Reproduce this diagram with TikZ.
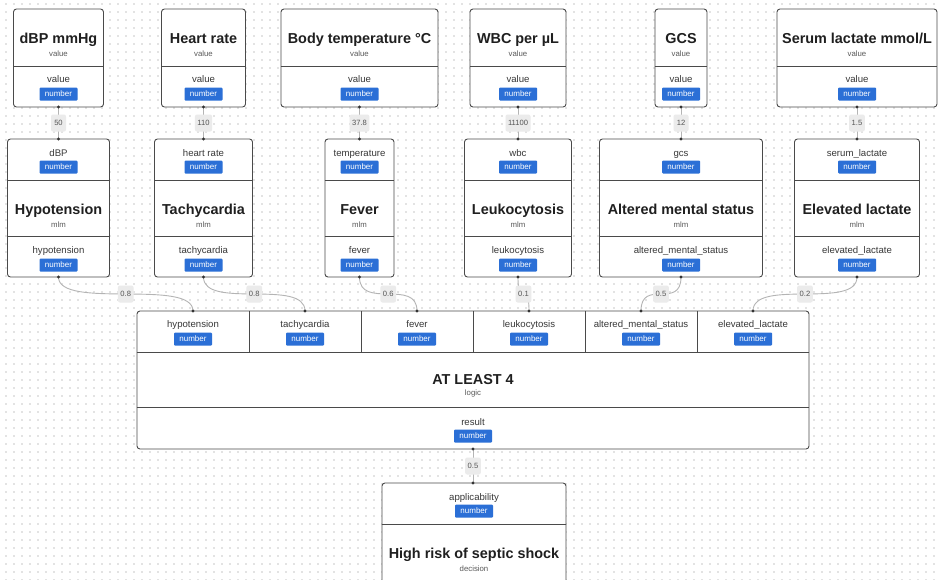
\documentclass[tikz,border=0pt]{standalone}
\usepackage{fontspec}
\setmainfont{Liberation Sans}
\definecolor{bord}{HTML}{4A4A4A}
\definecolor{badgecol}{HTML}{2B6FD6}
\definecolor{conncol}{HTML}{B4B4B4}
\definecolor{elfill}{HTML}{EBEBEB}
\definecolor{eltext}{HTML}{555555}
\definecolor{gridc}{HTML}{E3E3E3}
\tikzset{
 box/.style={draw=bord, line width=0.9pt, fill=white, rounded corners=3pt, inner sep=0pt},
 divider/.style={draw=bord, line width=0.8pt},
 ttl/.style={font=\fontsize{14.4}{16}\selectfont\bfseries, text=black!88, inner sep=0pt},
 sub/.style={font=\fontsize{7.8}{9}\selectfont, text=black!65, inner sep=0pt},
 plabel/.style={font=\fontsize{9.6}{11}\selectfont, text=black!78, inner sep=0pt},
 badgebox/.style={fill=badgecol, text=white, font=\fontsize{8}{9}\selectfont, minimum width=38pt, minimum height=13pt, inner sep=0pt, rounded corners=1pt},
 conn/.style={draw=conncol, line width=0.9pt},
 elabel/.style={fill=elfill, text=eltext, font=\fontsize{7.6}{9}\selectfont, rounded corners=2pt, inner xsep=2.5pt, inner ysep=0pt, minimum height=17pt, minimum width=15pt},
 portdot/.style={fill=black!80},
}
\newcommand{\valbox}[4]{%
 \node[box, minimum width=#3pt, minimum height=98pt] (#1) at (#2,58) {};
 \draw[divider] ([yshift=-8pt]#1.west) -- ([yshift=-8pt]#1.east);
 \node[ttl, anchor=base] (#1-t) at (#2,43.5) {#4};
 \node[sub, anchor=base] (#1-s) at (#2,56.5) {value};
 \node[plabel, anchor=base] (#1-l) at (#2,82.5) {value};
 \node[badgebox] (#1-b) at (#2,94) {number};
 \coordinate (#1-out) at (#2,107);
}
\newcommand{\mlmbox}[6]{%
 \node[box, minimum width=#3pt, minimum height=138pt] (#1) at (#2,208) {};
 \draw[divider] ([yshift=28pt]#1.west) -- ([yshift=28pt]#1.east);
 \draw[divider] ([yshift=-28pt]#1.west) -- ([yshift=-28pt]#1.east);
 \node[plabel, anchor=base] (#1-il) at (#2,156) {#4};
 \node[badgebox] (#1-ib) at (#2,167) {number};
 \node[ttl, anchor=base] (#1-t) at (#2,214) {#5};
 \node[sub, anchor=base] (#1-s) at (#2,227) {mlm};
 \node[plabel, anchor=base] (#1-ol) at (#2,253) {#6};
 \node[badgebox] (#1-ob) at (#2,265) {number};
 \coordinate (#1-in) at (#2,139);
 \coordinate (#1-out) at (#2,277);
}
\begin{document}
\begin{tikzpicture}[x=1pt,y=-1pt]
\useasboundingbox (0,0) rectangle (938,579);
\clip (0,0) rectangle (938,579);
\fill[white] (0,0) rectangle (938,579);
\foreach \k in {0,...,72}
  \draw[gridc, line width=1.1pt, dash pattern=on 1.1pt off 6.9pt] (5.45,{4+8*\k}) -- (938,{4+8*\k});

% value boxes
\valbox{dbp}{58.5}{90}{dBP mmHg}
\valbox{hr}{203.5}{84}{Heart rate}
\valbox{bt}{359.5}{157}{Body temperature °C}
\valbox{wbc}{518}{96}{WBC per µL}
\valbox{gcs}{681}{52}{GCS}
\valbox{sl}{857}{160}{Serum lactate mmol/L}

% mlm boxes
\mlmbox{hyp}{58.5}{102}{dBP}{Hypotension}{hypotension}
\mlmbox{tac}{203.5}{98}{heart rate}{Tachycardia}{tachycardia}
\mlmbox{fev}{359.5}{69}{temperature}{Fever}{fever}
\mlmbox{leu}{518}{107}{wbc}{Leukocytosis}{leukocytosis}
\mlmbox{ams}{681}{163}{gcs}{Altered mental status}{altered\_mental\_status}
\mlmbox{ela}{857}{125}{serum\_lactate}{Elevated lactate}{elevated\_lactate}

% logic box
\node[box, minimum width=672pt, minimum height=138pt] (logic) at (473,380) {};
\draw[divider] ([yshift=28pt]logic.west) -- ([yshift=28pt]logic.east);
\draw[divider] ([yshift=-27pt]logic.west) -- ([yshift=-27pt]logic.east);
\foreach \x in {249,361,473,585,697}
  \draw[divider] (\x,311) -- (\x,352);
\foreach \i/\lab in {1/hypotension,2/tachycardia,3/fever,4/leukocytosis,5/altered\_mental\_status,6/elevated\_lactate}{
  \pgfmathsetmacro\px{193+112*(\i-1)}
  \node[plabel, anchor=base] (lg-l\i) at (\px,327) {\lab};
  \node[badgebox] (lg-b\i) at (\px,339) {number};
  \coordinate (lg-p\i) at (\px,311);
}
\node[ttl, anchor=base] (logic-t) at (473,384) {AT LEAST 4};
\node[sub, anchor=base] (logic-s) at (473,395.5) {logic};
\node[plabel, anchor=base] (logic-l) at (473,425.5) {result};
\node[badgebox] (logic-b) at (473,436) {number};
\coordinate (logic-out) at (473,449);

% decision box
\node[box, minimum width=184pt, minimum height=140pt] (dec) at (474,553) {};
\draw[divider] ([yshift=29pt]dec.west) -- ([yshift=29pt]dec.east);
\node[plabel, anchor=base] (dec-l) at (474,500) {applicability};
\node[badgebox] (dec-b) at (474,511) {number};
\node[ttl, anchor=base] (dec-t) at (474,558) {High risk of septic shock};
\node[sub, anchor=base] (dec-s) at (474,571) {decision};
\coordinate (dec-in) at (473,483);

% connectors value -> mlm
\draw[conn] (dbp-out) -- (hyp-in) node[midway, elabel] {50};
\draw[conn] (hr-out) -- (tac-in) node[midway, elabel] {110};
\draw[conn] (bt-out) -- (fev-in) node[midway, elabel] {37.8};
\draw[conn] (wbc-out) -- (leu-in) node[midway, elabel] {11100};
\draw[conn] (gcs-out) -- (ams-in) node[midway, elabel] {12};
\draw[conn] (sl-out) -- (ela-in) node[midway, elabel] {1.5};

% connectors mlm -> logic
\draw[conn] (hyp-out) .. controls +(0,33) and +(0,-33) .. (lg-p1) node[midway, elabel] {0.8};
\draw[conn] (tac-out) .. controls +(0,33) and +(0,-33) .. (lg-p2) node[midway, elabel] {0.8};
\draw[conn] (fev-out) .. controls +(0,33) and +(0,-33) .. (lg-p3) node[midway, elabel] {0.6};
\draw[conn] (leu-out) .. controls +(0,33) and +(0,-33) .. (lg-p4) node[midway, elabel] {0.1};
\draw[conn] (ams-out) .. controls +(0,33) and +(0,-33) .. (lg-p5) node[midway, elabel] {0.5};
\draw[conn] (ela-out) .. controls +(0,33) and +(0,-33) .. (lg-p6) node[midway, elabel] {0.2};

% logic -> decision
\draw[conn] (logic-out) -- (dec-in) node[midway, elabel] {0.5};

% port dots
\foreach \c in {dbp-out,hr-out,bt-out,wbc-out,gcs-out,sl-out,hyp-in,tac-in,fev-in,leu-in,ams-in,ela-in,hyp-out,tac-out,fev-out,leu-out,ams-out,ela-out,lg-p1,lg-p2,lg-p3,lg-p4,lg-p5,lg-p6,logic-out,dec-in}
  \fill[portdot] (\c) circle (1.6pt);
\end{tikzpicture}
\end{document}
